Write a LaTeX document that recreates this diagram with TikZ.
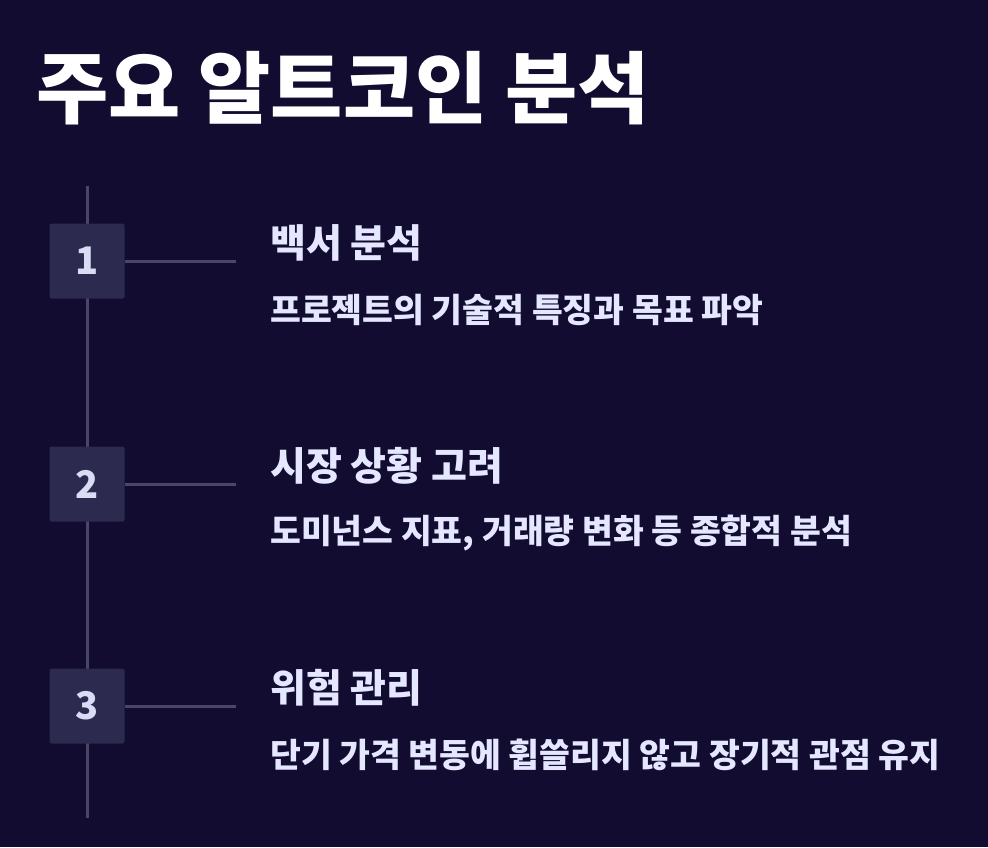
\documentclass[tikz,border=0pt]{standalone}
\usepackage{fontspec}
\setmainfont{Noto Sans CJK KR}
\newfontfamily\numfont{Noto Sans CJK KR Medium}
\definecolor{bg}{HTML}{110C30}
\definecolor{linec}{HTML}{4A4668}
\definecolor{boxc}{HTML}{2D2A50}
\definecolor{numc}{HTML}{D8DCF5}
\definecolor{txtc}{HTML}{E4E7FF}
\begin{document}
\begin{tikzpicture}[x=1pt,y=-1pt,
  numbox/.style={fill=boxc,rounded corners=2pt,minimum width=75pt,minimum height=75pt,inner sep=0pt,text=numc,font=\bfseries\fontsize{38}{44}\selectfont},
  head/.style={anchor=west,inner sep=0pt,text=txtc,font=\bfseries\fontsize{39}{46}\selectfont},
  sub/.style={anchor=west,inner sep=0pt,text=txtc,font=\bfseries\fontsize{33.5}{40}\selectfont},
  conn/.style={draw=linec,line width=3pt}]
\fill[bg] (0,0) rectangle (988,847);
\node[anchor=west,inner sep=0pt,text=white,font=\bfseries\fontsize{78.5}{86}\selectfont] (title) at (36,88) {주요 알트코인 분석};
\coordinate (top) at (87,186);
\coordinate (bot) at (87,818);
\draw[conn] (top) -- (bot);
\foreach \i/\y/\h/\s in {1/261/백서 분석/프로젝트의 기술적 특징과 목표 파악,
                         2/484/시장 상황 고려/{도미넌스 지표, 거래량 변화 등 종합적 분석},
                         3/706/위험 관리/단기 가격 변동에 휩쓸리지 않고 장기적 관점 유지}{
  \node[numbox] (b\i) at (87,\y) {\i};
  \coordinate (e\i) at (236,\y);
  \draw[conn] (b\i.east) -- (e\i);
  \node[head] (h\i) at (270,\y-18) {\h};
  \node[sub] (s\i) at (270,\y+49) {\s};
}
\end{tikzpicture}
\end{document}
